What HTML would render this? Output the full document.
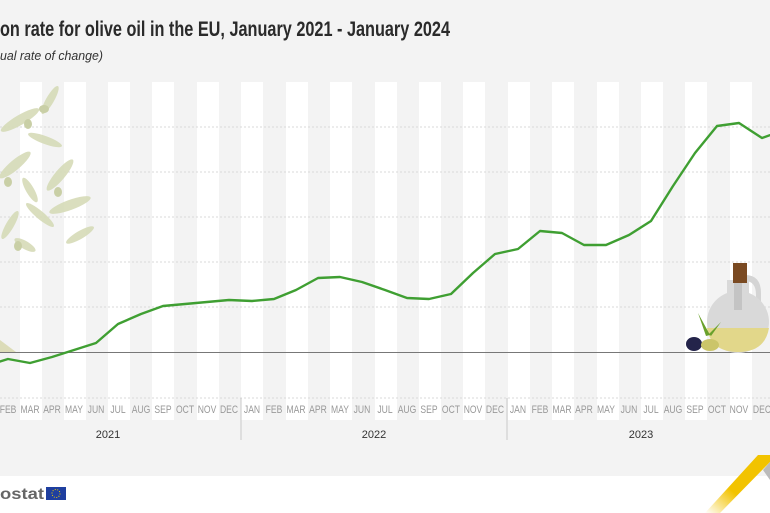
<!DOCTYPE html>
<html><head><meta charset="utf-8"><style>
html,body{margin:0;padding:0;width:770px;height:513px;overflow:hidden;background:#fff}
svg{display:block}
</style></head><body>
<svg width="770" height="513" viewBox="0 0 770 513" xmlns="http://www.w3.org/2000/svg" font-family="Liberation Sans, sans-serif">
<defs><linearGradient id="yg" x1="1" y1="0" x2="0" y2="1"><stop offset="0" stop-color="#f2c300"/><stop offset="0.6" stop-color="#f2c300"/><stop offset="1" stop-color="#f2c300" stop-opacity="0"/></linearGradient></defs>
<rect x="0" y="0" width="770" height="476" fill="#f3f3f3"/>
<g fill="#ffffff">
<rect x="20" y="82" width="22" height="338"/><rect x="64" y="82" width="22" height="338"/><rect x="108" y="82" width="22" height="338"/><rect x="152" y="82" width="22" height="338"/><rect x="197" y="82" width="22" height="338"/><rect x="241" y="82" width="22" height="338"/><rect x="286" y="82" width="22" height="338"/><rect x="330" y="82" width="22" height="338"/><rect x="375" y="82" width="22" height="338"/><rect x="419" y="82" width="22" height="338"/><rect x="463" y="82" width="22" height="338"/><rect x="508" y="82" width="22" height="338"/><rect x="552" y="82" width="22" height="338"/><rect x="597" y="82" width="22" height="338"/><rect x="641" y="82" width="22" height="338"/><rect x="685" y="82" width="22" height="338"/><rect x="730" y="82" width="22" height="338"/>
</g>
<g stroke="#d8d8d8" stroke-dasharray="2,2" stroke-width="1">
<line x1="0" y1="127" x2="770" y2="127"/><line x1="0" y1="172" x2="770" y2="172"/><line x1="0" y1="217" x2="770" y2="217"/><line x1="0" y1="262" x2="770" y2="262"/><line x1="0" y1="307" x2="770" y2="307"/><line x1="0" y1="398" x2="770" y2="398"/>
</g>
<g fill="#d6dbb8" opacity="0.9">
<ellipse cx="20" cy="120" rx="22" ry="5" transform="rotate(-30 20 120)"/>
<ellipse cx="50" cy="100" rx="16" ry="4" transform="rotate(-60 50 100)"/>
<ellipse cx="45" cy="140" rx="18" ry="4" transform="rotate(20 45 140)"/>
<ellipse cx="15" cy="165" rx="20" ry="5" transform="rotate(-40 15 165)"/>
<ellipse cx="60" cy="175" rx="20" ry="5" transform="rotate(-50 60 175)"/>
<ellipse cx="70" cy="205" rx="22" ry="5" transform="rotate(-20 70 205)"/>
<ellipse cx="40" cy="215" rx="18" ry="4" transform="rotate(40 40 215)"/>
<ellipse cx="80" cy="235" rx="16" ry="4" transform="rotate(-30 80 235)"/>
<ellipse cx="10" cy="225" rx="16" ry="4" transform="rotate(-60 10 225)"/>
<ellipse cx="25" cy="245" rx="12" ry="4" transform="rotate(30 25 245)"/>
<ellipse cx="30" cy="190" rx="14" ry="4" transform="rotate(60 30 190)"/>
</g>
<g fill="#c9cfa6"><ellipse cx="44" cy="109" rx="5" ry="4"/><ellipse cx="28" cy="124" rx="4" ry="5"/><ellipse cx="8" cy="182" rx="4" ry="5"/><ellipse cx="58" cy="192" rx="4" ry="5"/><ellipse cx="18" cy="246" rx="4" ry="5"/></g>
<polygon points="0,340 16,352 0,352" fill="#dcdcb8"/>
<line x1="0" y1="352.5" x2="770" y2="352.5" stroke="#777" stroke-width="1"/>
<g>
<path d="M745 275 q16 0 16 18 v20 h-5 v-18 q0 -14 -11 -14 z" fill="#d4d4d4"/>
<rect x="727" y="280" width="22" height="28" fill="#d9d9d9"/>
<circle cx="738" cy="322" r="31" fill="#d9d9d9"/>
<path d="M707 328 h62 q-4 24 -31 24 q-27 0 -31 -24 z" fill="#e2d78a"/>
<rect x="734" y="280" width="8" height="30" fill="#c4c4c4"/>
<rect x="733" y="263" width="14" height="20" fill="#7a4a22"/>
<ellipse cx="694" cy="344" rx="8" ry="7" fill="#24244a"/>
<ellipse cx="710" cy="345" rx="9" ry="6" fill="#cbc56a"/>
<path d="M698 313 l12 22 l-4 1 z M721 322 l-10 14 l-2 -2 z" fill="#6aa12c"/>
</g>
<polyline fill="none" stroke="#3f9f32" stroke-width="2.4" stroke-linejoin="round" points="-14,366 8,359 30,363 52,357 74,350 96,343 118,324 141,314 163,306 185,304 207,302 229,300 252,301 274,299 296,290 318,278 340,277 362,282 385,290 407,298 429,299 451,294 473,273 495,254 518,249 540,231 562,233 584,245 606,245 629,235 651,221 673,186 695,153 717,126 739,123 762,138 784,130"/>
<g transform="scale(0.78,1)" font-size="11" fill="#999" text-anchor="middle">
<text x="10.3" y="413">FEB</text><text x="38.5" y="413">MAR</text><text x="66.7" y="413">APR</text><text x="94.9" y="413">MAY</text><text x="123.1" y="413">JUN</text><text x="151.3" y="413">JUL</text><text x="180.8" y="413">AUG</text><text x="209" y="413">SEP</text><text x="237.2" y="413">OCT</text><text x="265.4" y="413">NOV</text><text x="293.6" y="413">DEC</text><text x="323.1" y="413">JAN</text><text x="351.3" y="413">FEB</text><text x="379.5" y="413">MAR</text><text x="407.7" y="413">APR</text><text x="435.9" y="413">MAY</text><text x="464.1" y="413">JUN</text><text x="493.6" y="413">JUL</text><text x="521.8" y="413">AUG</text><text x="550" y="413">SEP</text><text x="578.2" y="413">OCT</text><text x="606.4" y="413">NOV</text><text x="634.6" y="413">DEC</text><text x="664.1" y="413">JAN</text><text x="692.3" y="413">FEB</text><text x="720.5" y="413">MAR</text><text x="748.7" y="413">APR</text><text x="776.9" y="413">MAY</text><text x="806.4" y="413">JUN</text><text x="834.6" y="413">JUL</text><text x="862.8" y="413">AUG</text><text x="891" y="413">SEP</text><text x="919.2" y="413">OCT</text><text x="947.4" y="413">NOV</text><text x="976.9" y="413">DEC</text>
</g>
<g stroke="#c8c8c8"><line x1="241" y1="398" x2="241" y2="440"/><line x1="507" y1="398" x2="507" y2="440"/></g>
<g font-size="11" fill="#333" text-anchor="middle"><text x="108" y="438">2021</text><text x="374" y="438">2022</text><text x="641" y="438">2023</text></g>
<text x="0" y="36" font-size="21" font-weight="bold" fill="#2a2a2a" textLength="450" lengthAdjust="spacingAndGlyphs">on rate for olive oil in the EU, January 2021 - January 2024</text>
<text x="0" y="60" font-size="13" font-style="italic" fill="#333" textLength="103" lengthAdjust="spacingAndGlyphs">ual rate of change)</text>
<text x="0" y="499" font-size="16" font-weight="bold" fill="#666" textLength="44" lengthAdjust="spacingAndGlyphs">ostat</text>
<rect x="46" y="487" width="20" height="13" fill="#1f3f9f"/>
<circle cx="56" cy="493.5" r="4" fill="none" stroke="#f2d000" stroke-width="1" stroke-dasharray="1,1.5"/>
<polygon points="758,455 770,455 770,462 720,513 705,513" fill="url(#yg)"/>
<polygon points="770,462 770,480 763,470" fill="#bbb"/>
</svg>
</body></html>
